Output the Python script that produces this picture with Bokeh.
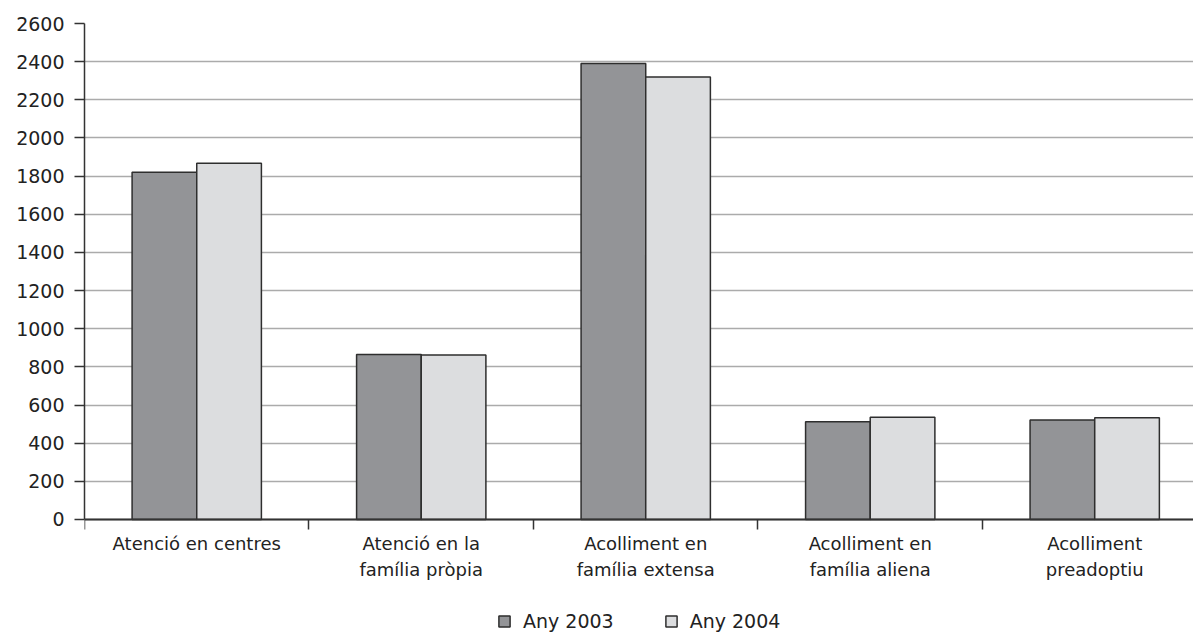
from bokeh.plotting import figure
from bokeh.models import FixedTicker, Range1d, Legend, LegendItem, ColumnDataSource
from bokeh.embed import file_html
from bokeh.resources import INLINE

categories = ["Atenció en centres", "Atenció en la\nfamília pròpia", "Acolliment en\nfamília extensa",
              "Acolliment en\nfamília aliena", "Acolliment\npreadoptiu"]
any2003 = [1820, 865, 2390, 512, 522]
any2004 = [1867, 862, 2320, 536, 533]
y_ticks = list(range(0, 2601, 200))

FONT = "DejaVu Sans"
TXT = "#222222"
centers = [i + 0.5 for i in range(len(categories))]
bw = 0.288

p = figure(frame_width=1109, frame_height=611, x_range=Range1d(0, 4.94), y_range=Range1d(-603, 2600),
           output_backend="svg", toolbar_location=None,
           min_border_left=84, min_border_top=23, min_border_right=0, min_border_bottom=0)
p.outline_line_color = None
p.background_fill_color = "white"

s1 = ColumnDataSource(dict(x=[c - bw / 2 for c in centers], top=any2003))
s2 = ColumnDataSource(dict(x=[c + bw / 2 for c in centers], top=any2004))
r1 = p.vbar(x="x", top="top", width=bw, bottom=0, source=s1, fill_color="#939497",
            line_color="#2e2e2e", line_width=1.5)
r2 = p.vbar(x="x", top="top", width=bw, bottom=0, source=s2, fill_color="#dcdddf",
            line_color="#2e2e2e", line_width=1.5)

p.xgrid.visible = False
p.ygrid.grid_line_color = "#ababab"
p.ygrid.grid_line_width = 1.5
p.ygrid.ticker = FixedTicker(ticks=y_ticks)

ya = p.yaxis[0]
ya.ticker = FixedTicker(ticks=y_ticks)
ya.bounds = (0, 2600)
ya.major_tick_in = 0
ya.major_tick_out = 10
ya.minor_tick_line_color = None
ya.axis_line_color = "#333333"
ya.axis_line_width = 1.5
ya.major_tick_line_color = "#333333"
ya.major_tick_line_width = 1.5
ya.major_label_text_font = FONT
ya.major_label_text_font_size = "19px"
ya.major_label_text_color = TXT
ya.major_label_standoff = 10

xa = p.xaxis[0]
xa.fixed_location = 0
xa.ticker = FixedTicker(ticks=centers, minor_ticks=list(range(len(categories) + 1)))
xa.major_label_overrides = {c: lab for c, lab in zip(centers, categories)}
xa.major_tick_in = 0
xa.major_tick_out = 0
xa.minor_tick_in = 0
xa.minor_tick_out = 10
xa.minor_tick_line_color = "#333333"
xa.minor_tick_line_width = 1.5
xa.axis_line_color = "#333333"
xa.axis_line_width = 2
xa.major_label_text_font = FONT
xa.major_label_text_font_size = "18px"
xa.major_label_text_color = TXT
xa.major_label_standoff = 4

legend = Legend(items=[LegendItem(label="Any 2003", renderers=[r1]),
                       LegendItem(label="Any 2004", renderers=[r2])],
                orientation="horizontal", location=(413, 2), border_line_color=None,
                background_fill_alpha=0,
                glyph_width=14, glyph_height=14, label_standoff=12, spacing=50,
                label_text_font=FONT, label_text_font_size="19px", label_text_color=TXT,
                margin=0, padding=0)
p.add_layout(legend, "center")

open("out.html", "w").write(file_html(p, INLINE))
